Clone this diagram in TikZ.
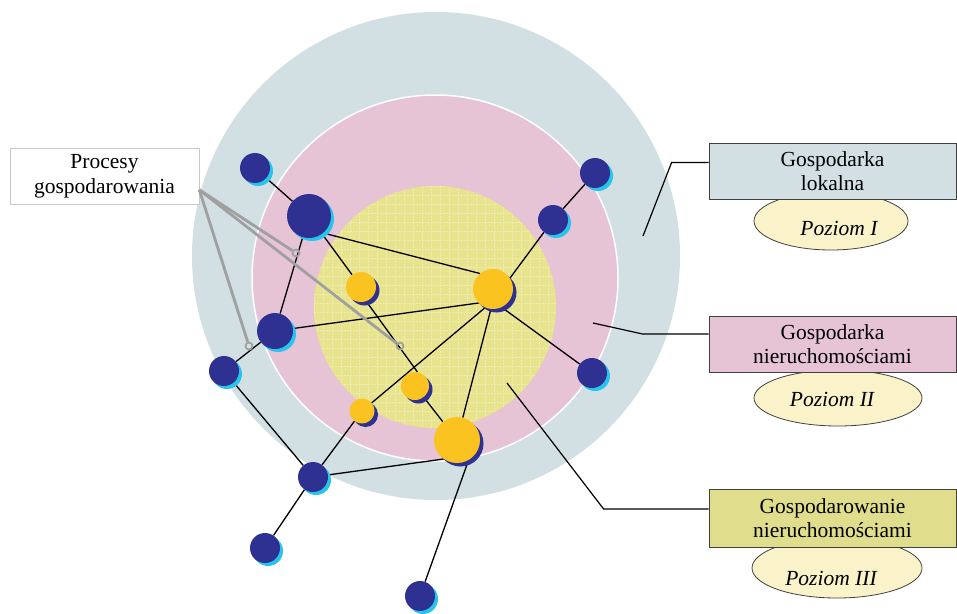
\documentclass[tikz,border=0pt]{standalone}
\usepackage{fontspec}
\setmainfont{Liberation Serif}
\usetikzlibrary{shapes.geometric,shadows}

\definecolor{ringlocal}{RGB}{210,224,228}
\definecolor{ringestate}{RGB}{230,195,213}
\definecolor{ringmanage}{RGB}{232,228,142}
\definecolor{gridpale}{RGB}{240,236,186}
\definecolor{nodeblue}{RGB}{46,49,146}
\definecolor{nodecyan}{RGB}{39,197,238}
\definecolor{nodeyellow}{RGB}{251,195,32}
\definecolor{levelfill}{RGB}{250,242,200}
\definecolor{boxmanage}{RGB}{224,222,140}
\definecolor{calloutgray}{RGB}{160,160,160}
\definecolor{probord}{RGB}{200,200,200}

\pgfdeclarelayer{rings}
\pgfdeclarelayer{links}
\pgfsetlayers{rings,links,main}

\tikzset{
  bnode/.style={circle,fill=nodeblue,inner sep=0pt,minimum size=#1,
    drop shadow={shadow xshift=3pt,shadow yshift=-3pt,fill=nodecyan,opacity=1}},
  ynode/.style={circle,fill=nodeyellow,inner sep=0pt,minimum size=#1,
    drop shadow={shadow xshift=3.5pt,shadow yshift=-3.5pt,fill=nodeblue,opacity=1}},
  link/.style={black,line width=1.3pt},
  leader/.style={black,line width=1.2pt},
  callout/.style={calloutgray,line width=2.8pt},
  marker/.style={circle,draw=calloutgray,line width=1.8pt,inner sep=0pt,minimum size=7pt},
  gridline/.style={gridpale,line width=0.9pt,dash pattern=on 2pt off 1pt},
  levelbox/.style={rectangle,draw=black!75,line width=0.8pt,minimum width=247pt,
    minimum height=56pt,align=center,font=\fontsize{21.5}{23.5}\selectfont},
  levelell/.style={ellipse,draw=black!75,line width=0.8pt,fill=levelfill,inner sep=0pt},
  leveltext/.style={font=\fontsize{21.5}{23.5}\selectfont\itshape},
  probox/.style={rectangle,draw=probord,line width=0.7pt,fill=white,minimum width=189pt,
    minimum height=56pt,align=center,font=\fontsize{21.5}{24.5}\selectfont}
}

\begin{document}
\begin{tikzpicture}[x=1pt,y=-1pt]
\useasboundingbox (0,0) rectangle (957,613);

% rings
\begin{pgfonlayer}{rings}
\fill[ringlocal] (436,256) circle (244);
\fill[ringestate,draw=white,line width=1.5pt] (435,278) circle (183);
\fill[ringmanage] (435,307) circle (121);
\begin{scope}
\clip (435,307) circle (121);
\foreach \g in {0,...,27}
  \draw[gridline] (314+\g*9,180) -- (314+\g*9,432);
\foreach \g in {0,...,27}
  \draw[gridline] (308,186+\g*9) -- (562,186+\g*9);
\end{scope}
\end{pgfonlayer}

% nodes
\node[bnode=30pt] (b1) at (255,168) {};
\node[bnode=44pt] (b2) at (309,216) {};
\node[bnode=36pt] (b3) at (275,331) {};
\node[bnode=30pt] (b4) at (224,371) {};
\node[bnode=30pt] (b5) at (313,477) {};
\node[bnode=30pt] (b6) at (265,548) {};
\node[bnode=30pt] (b7) at (420,596) {};
\node[bnode=30pt] (b8) at (595,173) {};
\node[bnode=30pt] (b9) at (553,220) {};
\node[bnode=30pt] (b10) at (592,373) {};
\node[ynode=30pt] (y1) at (361,287) {};
\node[ynode=40pt] (y2) at (493,289) {};
\node[ynode=28pt] (y3) at (415,386) {};
\node[ynode=25pt] (y4) at (362,411) {};
\node[ynode=46pt] (y5) at (457,440) {};

% links
\begin{pgfonlayer}{links}
\coordinate (hub) at ([yshift=-12pt]y2.center);
\draw[link] (b1) -- (b2);
\draw[link] (b2) -- (y1);
\draw[link] (b2.-50) -- (y2.130);
\draw[link] (b2) -- (b3);
\draw[link] (b3) -- (hub);
\draw[link] (b3) -- (b4);
\draw[link] (b4) -- (b5);
\draw[link] (y1.-70) -- (y3.80);
\draw[link] (y3) -- (y5);
\draw[link] (hub) -- (y4);
\draw[link] (hub) -- (y5);
\draw[link] (hub) -- (b9);
\draw[link] (b9) -- (b8);
\draw[link] (hub) -- (b10);
\draw[link] (y4) -- (b5);
\draw[link] (b5) -- (y5.235);
\draw[link] (b5) -- (b6);
\draw[link] (y5.-60) -- (b7);
\end{pgfonlayer}

% levels
\node[levelell,minimum width=154pt,minimum height=58pt] (lv1) at (831,221) {};
\node[leveltext] at (839,228) {Poziom I};
\node[levelell,minimum width=168pt,minimum height=56pt] (lv2) at (838,398) {};
\node[leveltext] at (832,399) {Poziom II};
\node[levelell,minimum width=170pt,minimum height=60pt] (lv3) at (837,568) {};
\node[leveltext] at (831,578) {Poziom III};
\node[levelbox,fill=ringlocal] (gl) at (832.5,171) {Gospodarka\\lokalna};
\node[levelbox,fill=ringestate] (gn) at (832.5,344) {Gospodarka\\nieruchomościami};
\node[levelbox,fill=boxmanage,minimum height=58pt] (gm) at (832.5,518) {Gospodarowanie\\nieruchomościami};

\coordinate (p1) at (643,236);
\coordinate (p2) at (593,323);
\coordinate (p3) at (507,383);
\draw[leader] ([yshift=8.5pt]gl.west) -- ++(-37,0) -- (p1);
\draw[leader] ([yshift=10pt]gn.west) -- ++(-66,0) -- (p2);
\draw[leader] ([yshift=9pt]gm.west) -- ++(-105,0) -- (p3);

% processes
\node[probox] (pg) at (104.5,176.5) {Procesy\\gospodarowania};
\coordinate (pc) at ([yshift=15pt]pg.south east);
\node[marker] (m1) at (296,253) {};
\node[marker] (m2) at (400,346) {};
\node[marker] (m3) at (249,346) {};
\draw[callout] (pc) -- (m1);
\draw[callout] (pc) -- (m2);
\draw[callout] (pc) -- (m3);
\end{tikzpicture}
\end{document}
